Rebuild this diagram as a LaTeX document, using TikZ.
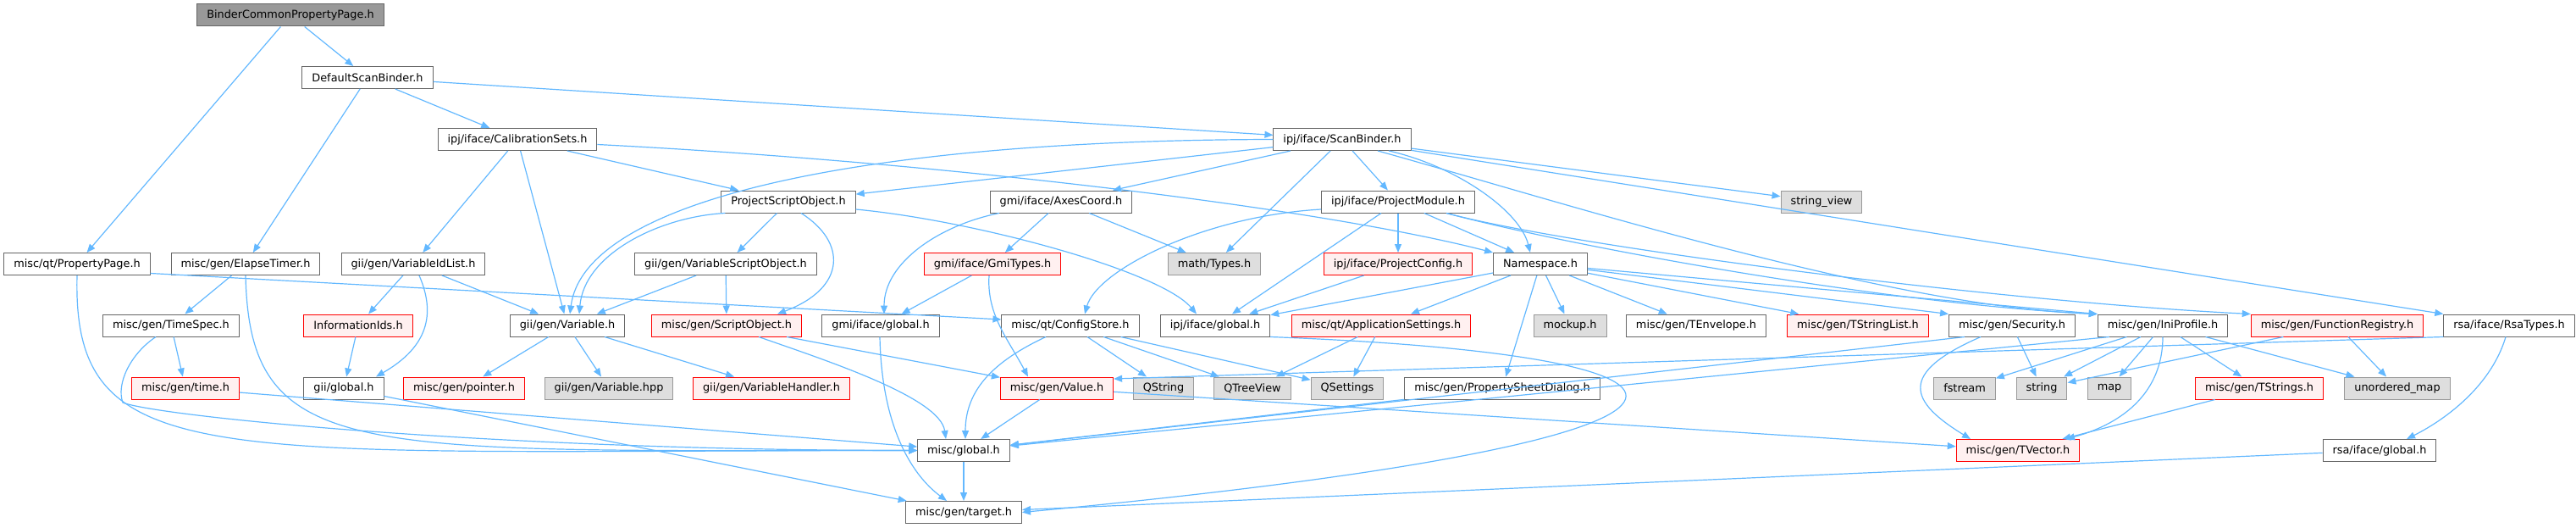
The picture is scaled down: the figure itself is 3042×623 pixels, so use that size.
\documentclass[tikz,border=0pt]{standalone}
\usepackage{fontspec}
\setmainfont{DejaVu Sans}
\usetikzlibrary{arrows.meta}
\definecolor{incblue}{HTML}{63B8FF}
\definecolor{hline}{HTML}{666666}
\definecolor{topfill}{HTML}{999999}
\definecolor{extfill}{HTML}{DEDEDE}
\definecolor{extline}{HTML}{999999}
\definecolor{cutfill}{HTML}{FFF0F0}
\begin{document}
\begin{tikzpicture}[x=1bp,y=-1bp,
  >={Triangle[length=10bp,width=8bp]},
  hfile/.style={draw=hline,fill=white,line width=1bp,minimum height=26bp,
    inner xsep=11.5bp,inner ysep=0bp,font=\fontsize{12.9}{15}\selectfont},
  topfile/.style={hfile,fill=topfill},
  extfile/.style={hfile,draw=extline,fill=extfill},
  cutfile/.style={hfile,draw=red,fill=cutfill},
  inc/.style={->,incblue,line width=1.2bp}]
\useasboundingbox (0,0) rectangle (3042,623);
%\draw (0,0) rectangle (3042,623);

\draw (343,18) node[topfile] (bcpp) {BinderCommonPropertyPage.h};
\draw (434,91.5) node[hfile] (dsb) {DefaultScanBinder.h};
\draw (611,164.5) node[hfile] (cs) {ipj/iface/CalibrationSets.h};
\draw (1585,164.5) node[hfile] (sb) {ipj/iface/ScanBinder.h};

\draw (931,238) node[hfile] (pso) {ProjectScriptObject.h};
\draw (1253,238) node[hfile] (axes) {gmi/iface/AxesCoord.h};
\draw (1651,238) node[hfile] (pm) {ipj/iface/ProjectModule.h};
\draw (2151,238) node[extfile] (sv) {string\_view};

\draw (91,311.5) node[hfile] (pp) {misc/qt/PropertyPage.h};
\draw (290,311.5) node[hfile] (et) {misc/gen/ElapseTimer.h};
\draw (488,311.5) node[hfile] (vil) {gii/gen/VariableIdList.h};
\draw (857,311.5) node[hfile] (vso) {gii/gen/VariableScriptObject.h};
\draw (1172,311.5) node[cutfile] (gmt) {gmi/iface/GmiTypes.h};
\draw (1434,311.5) node[extfile] (mt) {math/Types.h};
\draw (1651,311.5) node[cutfile] (pc) {ipj/iface/ProjectConfig.h};
\draw (1819,311.5) node[hfile] (ns) {Namespace.h};

\draw (202,384) node[hfile] (ts) {misc/gen/TimeSpec.h};
\draw (423,384) node[cutfile] (ii) {InformationIds.h};
\draw (670,384) node[hfile] (var) {gii/gen/Variable.h};
\draw (858,384) node[cutfile] (so) {misc/gen/ScriptObject.h};
\draw (1040,384) node[hfile] (gmg) {gmi/iface/global.h};
\draw (1264,384) node[hfile] (cfg) {misc/qt/ConfigStore.h};
\draw (1435,384) node[hfile] (ipg) {ipj/iface/global.h};
\draw (1631,384) node[cutfile] (as) {misc/qt/ApplicationSettings.h};
\draw (1854,384) node[extfile] (mock) {mockup.h};
\draw (2003,384) node[hfile] (tenv) {misc/gen/TEnvelope.h};
\draw (2194,384) node[cutfile] (tsl) {misc/gen/TStringList.h};
\draw (2376,384) node[hfile] (sec) {misc/gen/Security.h};
\draw (2554,384) node[hfile] (ini) {misc/gen/IniProfile.h};
\draw (2760,384) node[cutfile] (fr) {misc/gen/FunctionRegistry.h};
\draw (2963,384) node[hfile] (rsa) {rsa/iface/RsaTypes.h};

\draw (219,458) node[cutfile] (tm) {misc/gen/time.h};
\draw (406,458) node[hfile] (gg) {gii/global.h};
\draw (548,458) node[cutfile] (ptr) {misc/gen/pointer.h};
\draw (719,458) node[extfile] (vhpp) {gii/gen/Variable.hpp};
\draw (911,458) node[cutfile] (vh) {gii/gen/VariableHandler.h};
\draw (1248,458) node[cutfile] (val) {misc/gen/Value.h};
\draw (1374,458) node[extfile] (qs) {QString};
\draw (1479,458) node[extfile] (qtv) {QTreeView};
\draw (1591,458) node[extfile] (qset) {QSettings};
\draw (1774,458) node[hfile] (psd) {misc/gen/PropertySheetDialog.h};
\draw (2320,458) node[extfile] (fs) {fstream};
\draw (2411,458) node[extfile] (str) {string};
\draw (2491,458) node[extfile] (map) {map};
\draw (2668,458) node[cutfile] (tstr) {misc/gen/TStrings.h};
\draw (2831,458) node[extfile] (um) {unordered\_map};

\draw (1138,531.5) node[hfile] (mg) {misc/global.h};
\draw (2383,531.5) node[cutfile] (tv) {misc/gen/TVector.h};
\draw (2810,531.5) node[hfile] (rg) {rsa/iface/global.h};
\draw (1138,604.5) node[hfile] (tgt) {misc/gen/target.h};
\coordinate (tsdip) at (145,475);

\draw[inc] (bcpp) -- (pp);
\draw[inc] (bcpp) -- (dsb);
\draw[inc] (dsb) -- (et);
\draw[inc] (dsb) -- (cs);
\draw[inc] (dsb) -- (sb);
\draw[inc] (cs) -- (vil);
\draw[inc] (cs) -- (var);
\draw[inc] (cs) -- (pso);
\draw[inc] ([yshift=-6bp]cs.east) .. controls +(394,20) and +(-210,-54) .. (ns.north west);
\draw[inc] (sb) -- (pso);
\draw[inc] (sb) -- (axes);
\draw[inc] (sb.west) .. controls +(-504,1) and +(17,-131) .. ([xshift=3bp]var.north);
\draw[inc] (sb) -- (mt);
\draw[inc] (sb) -- (pm);
\draw[inc] ([xshift=55bp]sb.south) .. controls +(80,18) and +(-12,-49) .. ([xshift=-12bp]ns.north);
\draw[inc] (sb) -- (sv);
\draw[inc] (sb) -- (rsa.north west);
\draw[inc] ([xshift=42bp]sb.south) .. controls +(213,59) and +(-250,-9) .. (ini.north west);
\draw[inc] ([xshift=5bp]pso.south west) .. controls +(-77,4) and +(6,-71) .. ([xshift=14bp]var.north);
\draw[inc] (pso) -- (vso);
\draw[inc] ([xshift=15bp]pso.south) .. controls +(54,34) and +(82,-31) .. ([xshift=60bp]so.north);
\draw[inc] ([yshift=-9bp]pso.east) .. controls +(139,13) and +(-43,-51) .. ([xshift=-22bp]ipg.north);
\draw[inc] ([xshift=-73bp]axes.south) .. controls +(-70,14) and +(0,-61) .. ([xshift=4bp]gmg.north);
\draw[inc] (axes) -- (gmt);
\draw[inc] (axes) -- (mt);
\draw[inc] ([yshift=-9bp]pm.west) .. controls +(-140,8) and +(14,-51) .. ([xshift=17bp]cfg.north);
\draw[inc] (pm) -- (ipg);
\draw[inc] (pm) -- (pc);
\draw[inc] (pm) -- (ns);
\draw[inc] ([xshift=57bp]pm.south) .. controls +(150,40) and +(-250,-12) .. (ini.north west);
\draw[inc] ([xshift=57bp]pm.south) .. controls +(150,40) and +(-300,-15) .. (fr.north west);
\draw[inc] (vso) -- (var);
\draw[inc] (vso) -- (so);
\draw[inc] (vil) -- (ii);
\draw[inc] ([xshift=7bp]vil.south) .. controls +(20,46) and +(61,-35) .. ([xshift=38bp]gg.north);
\draw[inc] (vil) -- (var);
\draw[inc] (pp.south) .. controls +(-6,236) and +(-833,0) .. (mg.west);
\draw[inc] ([yshift=-11bp]pp.east) -- ([yshift=7bp]cfg.west);
\draw[inc] (et) -- (ts);
\draw[inc] (et.south) .. controls +(5,221) and +(-663,0) .. (mg.west);
\draw[inc] (gmt) -- (gmg);
\draw[inc] ([xshift=-4bp]gmt.south) .. controls +(-3,46) and +(-24,-45) .. ([xshift=-34bp]val.north);
\draw[inc] (pc) -- (ipg);
\draw[inc] (ns) -- (ipg);
\draw[inc] (ns) -- (as);
\draw[inc] (ns) -- (psd);
\draw[inc] (ns) -- (mock);
\draw[inc] (ns) -- (tenv);
\draw[inc] (ns) -- (tsl);
\draw[inc] (ns) -- (sec.north west);
\draw[inc] (ns) -- (ini.north west);
\draw[inc] (ts) -- (tm);
\draw[inc] ([xshift=-18bp]ts.south) .. controls +(-30,20) and +(-8,-22) .. (tsdip)
  .. controls +(40,16) and +(-500,0) .. (mg.west);
\draw[inc] (ii) -- (gg);
\draw[inc] (var) -- (ptr);
\draw[inc] (var) -- (vhpp);
\draw[inc] (var) -- (vh);
\draw[inc] ([xshift=38bp]so.south) .. controls +(80,28) and +(-7,-49) .. ([xshift=-21bp]mg.north);
\draw[inc] (so) -- (val);
\draw[inc] ([xshift=-1bp]gmg.south) .. controls +(2,103) and +(-43,-32) .. ([xshift=-20bp]tgt.north);
\draw[inc] ([xshift=-29bp]cfg.south) .. controls +(-60,28) and +(0,-59) .. ([xshift=2bp]mg.north);
\draw[inc] (cfg) -- (qs);
\draw[inc] (cfg) -- (qtv);
\draw[inc] (cfg) -- (qset);
\draw[inc] (ipg.south east) .. controls +(600,23) and +(894,-84) .. (tgt.east);
\draw[inc] (as) -- (qtv);
\draw[inc] (as) -- (qset);
\draw[inc] ([xshift=19bp]sec.south west) -- (mg);
\draw[inc] ([xshift=-37bp]sec.south) .. controls +(-99,43) and +(-72,-44) .. ([xshift=-56bp]tv.north);
\draw[inc] (sec) -- (str);
\draw[inc] ([xshift=14bp]ini.south west) -- (mg);
\draw[inc] (ini) -- (fs);
\draw[inc] (ini) -- (str);
\draw[inc] (ini) -- (map);
\draw[inc] (ini.south) .. controls +(0,63) and +(70,-19) .. ([xshift=57bp]tv.north);
\draw[inc] (ini) -- (tstr);
\draw[inc] (ini) -- (um);
\draw[inc] (fr) -- (str);
\draw[inc] (fr) -- (um);
\draw[inc] (rsa.south west) -- ([yshift=11bp]val.east);
\draw[inc] ([xshift=-4bp]rsa.south) .. controls +(-19,63) and +(38,-19) .. ([xshift=32bp]rg.north);
\draw[inc] (tm) -- (mg);
\draw[inc] (gg) -- (tgt);
\draw[inc] (val) -- (mg);
\draw[inc] (val) -- (tv);
\draw[inc] (psd) -- (mg);
\draw[inc] (tstr) -- (tv);
\draw[inc] (mg) -- (tgt);
\draw[inc] (rg) -- (tgt);
\end{tikzpicture}
\end{document}
